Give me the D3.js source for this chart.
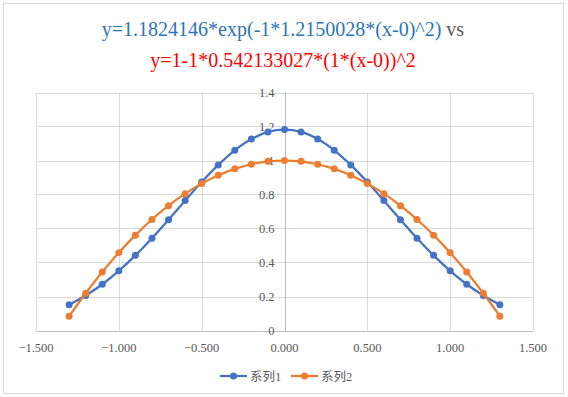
<!DOCTYPE html>
<html>
<head>
<meta charset="utf-8">
<script src="https://cdn.jsdelivr.net/npm/d3@7"></script>
<style>
  body { margin: 0; background: #fff; }
  svg { display: block; }
  text { font-family: "Liberation Serif", "DejaVu Serif", "Noto Sans CJK SC", serif; }
</style>
</head>
<body>
<svg width="568" height="397"></svg>
<script>
// values (x step 0.1 from -1.3 to 1.3)
const xs = [-1.3, -1.2, -1.1, -1.0, -0.9, -0.8, -0.7, -0.6, -0.5, -0.4, -0.3, -0.2, -0.1, 0,
            0.1, 0.2, 0.3, 0.4, 0.5, 0.6, 0.7, 0.8, 0.9, 1.0, 1.1, 1.2, 1.3];
const series1 = [0.152, 0.206, 0.272, 0.351, 0.442, 0.543, 0.652, 0.764, 0.873, 0.974, 1.060, 1.126, 1.168, 1.182,
                 1.168, 1.126, 1.060, 0.974, 0.873, 0.764, 0.652, 0.543, 0.442, 0.351, 0.272, 0.206, 0.152];
const series2 = [0.084, 0.219, 0.344, 0.458, 0.561, 0.653, 0.734, 0.805, 0.864, 0.913, 0.951, 0.978, 0.995, 1.000,
                 0.995, 0.978, 0.951, 0.913, 0.864, 0.805, 0.734, 0.653, 0.561, 0.458, 0.344, 0.219, 0.084];
const seriesNames = ['系列1', '系列2'];
const seriesColors = ['#4472c4', '#ed7d31'];
const xTicks = [-1.5, -1.0, -0.5, 0, 0.5, 1.0, 1.5];
const yTicks = [0, 0.2, 0.4, 0.6, 0.8, 1, 1.2, 1.4];

const svg = d3.select('svg');

// outer chart border
svg.append('rect')
    .attr('x', 3.5).attr('y', 3.5)
    .attr('width', 560).attr('height', 390)
    .attr('fill', '#fff')
    .attr('stroke', '#d9d9d9');

const x = d3.scaleLinear().domain([-1.5, 1.5]).range([36, 533]);
const y = d3.scaleLinear().domain([0, 1.4]).range([330.5, 92.5]);

// title
const t1 = svg.append('text')
    .attr('x', 283).attr('y', 36)
    .attr('text-anchor', 'middle')
    .attr('font-size', 20);
t1.append('tspan').attr('fill', '#2e75b6').text('y=1.1824146*exp(-1*1.2150028*(x-0)^2)');
t1.append('tspan').attr('fill', '#595959').text(' vs');
svg.append('text')
    .attr('x', 283).attr('y', 67)
    .attr('text-anchor', 'middle')
    .attr('font-size', 20)
    .attr('fill', '#ff0000')
    .text('y=1-1*0.542133027*(1*(x-0))^2');

// grid
const grid = svg.append('g').attr('stroke', '#d9d9d9').attr('stroke-width', 1);
grid.selectAll('.gx').data(xTicks).enter().append('line')
    .attr('x1', d => Math.round(x(d)) + 0.5).attr('x2', d => Math.round(x(d)) + 0.5)
    .attr('y1', y(1.4)).attr('y2', y(0));
grid.selectAll('.gy').data(yTicks).enter().append('line')
    .attr('x1', x(-1.5)).attr('x2', x(1.5))
    .attr('y1', d => Math.round(y(d)) + 0.5).attr('y2', d => Math.round(y(d)) + 0.5);

// axes crossing at zero
svg.append('line')
    .attr('x1', x(-1.5)).attr('x2', x(1.5))
    .attr('y1', Math.round(y(0)) + 0.5).attr('y2', Math.round(y(0)) + 0.5)
    .attr('stroke', '#bfbfbf');
svg.append('line')
    .attr('x1', Math.round(x(0)) + 0.5).attr('x2', Math.round(x(0)) + 0.5)
    .attr('y1', y(1.4)).attr('y2', y(0))
    .attr('stroke', '#bfbfbf');

// tick labels
svg.append('g').selectAll('text').data(xTicks).enter().append('text')
    .attr('x', d => x(d)).attr('y', 352)
    .attr('text-anchor', 'middle')
    .attr('font-size', 12.5)
    .attr('fill', '#595959')
    .text(d => d3.format('.3f')(d));
svg.append('g').selectAll('text').data(yTicks).enter().append('text')
    .attr('x', x(0) - 10).attr('y', d => y(d) + 4)
    .attr('text-anchor', 'end')
    .attr('font-size', 12.5)
    .attr('fill', '#595959')
    .text(d => d3.format('~g')(d));

// series
const line = d3.line()
    .x(d => x(d[0]))
    .y(d => y(d[1]))
    .curve(d3.curveCatmullRom.alpha(0.5));

[series1, series2].forEach((vals, i) => {
    const pts = xs.map((v, j) => [v, vals[j]]);
    const g = svg.append('g');
    g.append('path')
        .datum(pts)
        .attr('d', line)
        .attr('fill', 'none')
        .attr('stroke', seriesColors[i])
        .attr('stroke-width', 2.25);
    g.selectAll('circle').data(pts).enter().append('circle')
        .attr('cx', d => x(d[0])).attr('cy', d => y(d[1]))
        .attr('r', 3.5)
        .attr('fill', seriesColors[i]);
});

// legend
const legend = svg.append('g');
const legX = [220, 291];
seriesNames.forEach((name, i) => {
    const lg = legend.append('g').attr('transform', 'translate(' + legX[i] + ',376)');
    lg.append('line').attr('x1', 0).attr('x2', 27).attr('y1', 0).attr('y2', 0)
        .attr('stroke', seriesColors[i]).attr('stroke-width', 2.25);
    lg.append('circle').attr('cx', 13.5).attr('cy', 0).attr('r', 3.5)
        .attr('fill', seriesColors[i]);
    lg.append('text').attr('x', 30).attr('y', 4.5)
        .attr('font-size', 12.5)
        .attr('fill', '#595959')
        .text(name);
});
</script>
</body>
</html>
